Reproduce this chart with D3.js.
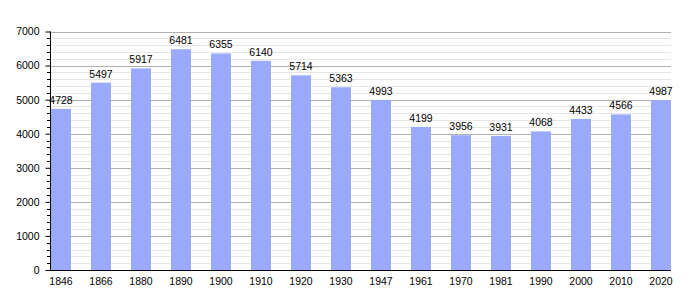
<!DOCTYPE html>
<html>
<head>
<meta charset="utf-8">
<script src="https://cdn.jsdelivr.net/npm/d3@7"></script>
<style>
  body { margin: 0; background: #fff; }
  text { font-family: "Liberation Sans", Arial, sans-serif; font-size: 10.5px; fill: #000; }
</style>
</head>
<body>
<script>
// population by census year
var years = ["1846", "1866", "1880", "1890", "1900", "1910", "1920", "1930", "1947",
             "1961", "1970", "1981", "1990", "2000", "2010", "2020"]
var population = [4728, 5497, 5917, 6481, 6355, 6140, 5714, 5363, 4993,
                  4199, 3956, 3931, 4068, 4433, 4566, 4987]
var yTicks = [0, 1000, 2000, 3000, 4000, 5000, 6000, 7000]

var width = 700
var height = 300
// note: "top" is reserved on window, so use plot* names
var plotLeft = 50, plotRight = 671, plotTop = 31.5, plotBottom = 270

var svg = d3.select("body").append("svg")
    .attr("width", width)
    .attr("height", height)

var x = d3.scaleBand()
    .domain(years)
    .range([plotLeft + 1, plotRight])
    .paddingInner(0.5)
    .paddingOuter(0)

var y = d3.scaleLinear()
    .domain([0, 7000])
    .range([plotBottom, plotTop])

function py(d) { return Math.round(y(d)) + 0.5 }

// minor grid every 200
var minor = d3.range(0, 7001, 200).filter(function (d) { return d % 1000 !== 0 })
svg.append("g").selectAll("line")
    .data(minor)
    .enter().append("line")
    .attr("x1", plotLeft).attr("x2", plotRight)
    .attr("y1", py).attr("y2", py)
    .attr("stroke", "#e6e6e6")

svg.append("g").selectAll("line")
    .data(yTicks.slice(1))
    .enter().append("line")
    .attr("x1", plotLeft).attr("x2", plotRight)
    .attr("y1", py).attr("y2", py)
    .attr("stroke", "#b0b0b0")

// bars
svg.append("g").selectAll("rect")
    .data(population)
    .enter().append("rect")
    .attr("x", function (d, i) { return x(years[i]) })
    .attr("width", x.bandwidth())
    .attr("y", function (d) { return y(d) })
    .attr("height", function (d) { return plotBottom - y(d) })
    .attr("fill", "#99aaff")

// value labels
svg.append("g").selectAll("text")
    .data(population)
    .enter().append("text")
    .attr("x", function (d, i) { return x(years[i]) + x.bandwidth() / 2 })
    .attr("y", function (d) { return y(d) - 5 })
    .attr("text-anchor", "middle")
    .text(function (d) { return d })

// y axis
var yAxis = d3.axisLeft(y).tickValues(yTicks).tickSize(5).tickPadding(6).tickFormat(d3.format("d"))
var gy = svg.append("g").attr("transform", "translate(" + (plotLeft + 0.5) + ",0)").call(yAxis)
gy.select(".domain").remove()
gy.selectAll("text").style("font-size", "10.5px").attr("fill", "#000")
gy.selectAll("line").attr("stroke", "#000")

svg.append("g").selectAll("line")
    .data(minor)
    .enter().append("line")
    .attr("x1", plotLeft - 3).attr("x2", plotLeft)
    .attr("y1", py).attr("y2", py)
    .attr("stroke", "#000")

svg.append("line")
    .attr("x1", plotLeft + 0.5).attr("x2", plotLeft + 0.5)
    .attr("y1", plotTop).attr("y2", plotBottom)
    .attr("stroke", "#000")

// x axis
var xAxis = d3.axisBottom(x).tickSize(0).tickPadding(8)
var gx = svg.append("g").attr("transform", "translate(0," + plotBottom + ")").call(xAxis)
gx.select(".domain").remove()
gx.selectAll("text").style("font-size", "10.5px").attr("fill", "#000")

svg.append("line")
    .attr("x1", plotLeft).attr("x2", plotRight)
    .attr("y1", plotBottom + 0.5).attr("y2", plotBottom + 0.5)
    .attr("stroke", "#000")
</script>
</body>
</html>
